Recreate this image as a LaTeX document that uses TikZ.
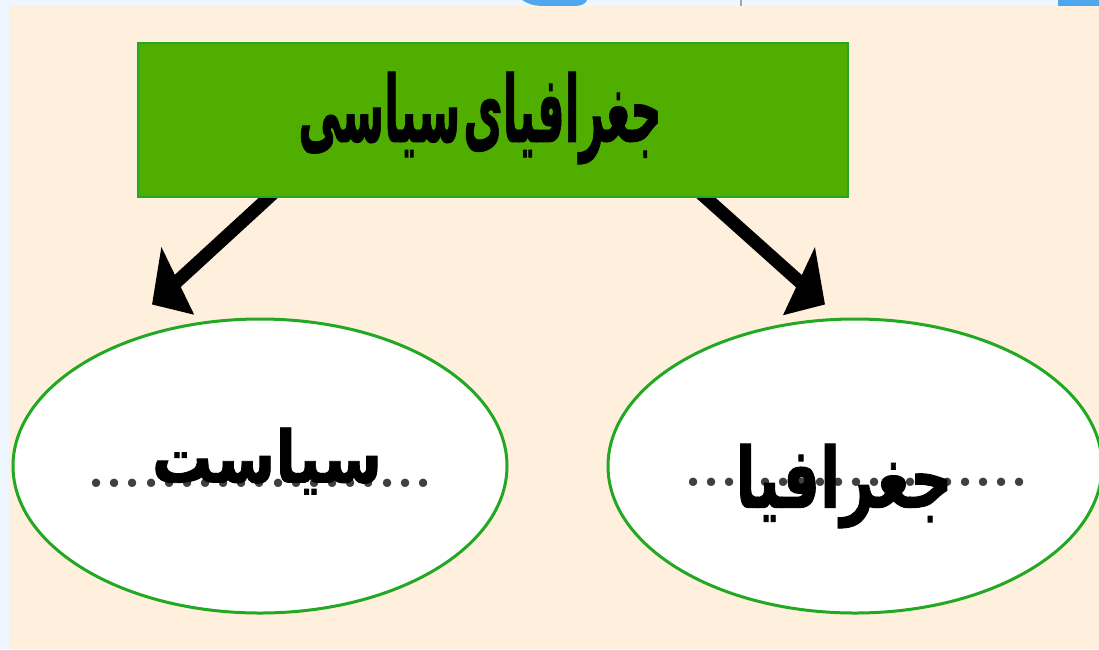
\documentclass[tikz,border=0pt]{standalone}
\usepackage{fontspec}
\usetikzlibrary{shapes.geometric,arrows.meta,calc}
\pgfdeclarelayer{under}
\pgfsetlayers{under,main}
\TeXXeTstate=1
\newfontfamily\arabicfont[Script=Arabic,WordSpace=0.2,BoldFeatures={FakeBold=1.2}]{DejaVu Sans}
\definecolor{bgc}{HTML}{FFF0DE}
\definecolor{paper}{HTML}{EEF6FF}
\definecolor{boxg}{HTML}{4FAE00}
\definecolor{ring}{HTML}{22A822}
\definecolor{blob}{HTML}{4FA8EE}
\tikzset{
  px/.style={x=1pt,y=-1pt},
  oval/.style={ellipse,draw=ring,line width=3pt,fill=white,inner sep=0pt,minimum width=494pt,minimum height=294pt},
  connl/.style={line width=13pt,-{Triangle[length=35pt,width=70pt,slant=0.3]}},
  connr/.style={line width=13pt,-{Triangle[length=35pt,width=70pt,slant=-0.3]}},
  lab/.style={font=\arabicfont\bfseries,text=black,inner sep=0pt},
  dots/.style={font=\bfseries\fontsize{58}{62}\selectfont,text=black!75,inner sep=0pt,anchor=base}
}
\begin{document}
\begin{tikzpicture}[px]
\useasboundingbox (0,0) rectangle (1099,649);
\node[draw=ring,line width=2pt,fill=boxg,minimum width=710pt,minimum height=154pt,inner sep=0pt] (top) at (493,119.5) {};
\node[lab] (toplab) at (480,118) {\scalebox{0.468}[1]{\fontsize{92}{96}\selectfont\beginR جغرافیای سیاسی\endR}};
\node[oval] (left) at (260,466) {};
\node[oval] (right) at (855,466) {};
\node[dots] (ld) at (260,487) {...................};
\node[dots] (rd) at (856.5,486) {...................};
\node[lab] (lt) at (267,461) {\scalebox{0.84}[1]{\fontsize{72}{76}\selectfont\beginR سیاست\endR}};
\node[lab] (rt) at (844,486) {\scalebox{0.7}[1]{\fontsize{84}{88}\selectfont\beginR جغرافیا\endR}};
\coordinate (a1) at ($(top.south)+(-220,-4)$);
\coordinate (a2) at ($(left.north)+(-108,-13)$);
\coordinate (b1) at ($(top.south)+(208,-4)$);
\coordinate (b2) at ($(right.north)+(-30,-13)$);
\begin{pgfonlayer}{under}
\fill[paper] (0,0) rectangle (1099,649);
\fill[blob] (522,0) .. controls (528,4) and (534,6) .. (545,6) -- (575,6) .. controls (582,6) and (586,3) .. (587,0) -- cycle;
\fill[blob] (1058,0) rectangle (1099,6);
\fill[black!35] (740,0) rectangle (742,6);
\fill[bgc] (9,6) rectangle (1099,649);
\draw[connl] (a1) -- (a2);
\draw[connr] (b1) -- (b2);
\end{pgfonlayer}
\end{tikzpicture}
\end{document}
